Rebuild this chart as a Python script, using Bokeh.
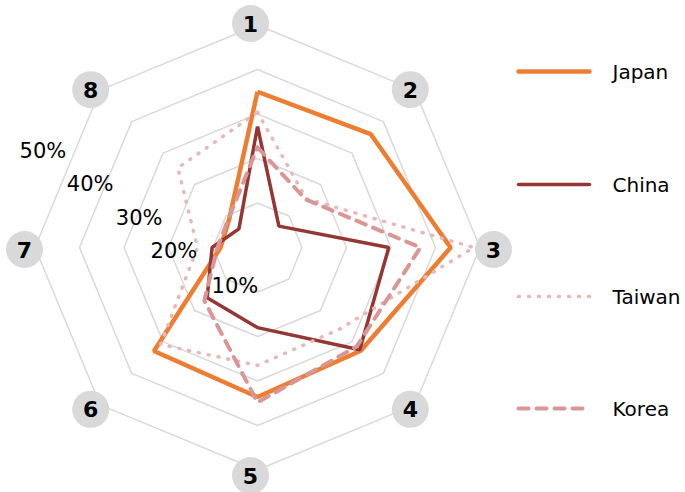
import math
from bokeh.plotting import figure
from bokeh.models import Range1d
from bokeh.core.properties import value
from bokeh.embed import file_html
from bokeh.resources import INLINE

# ---- data ----
axes_labels = ["1", "2", "3", "4", "5", "6", "7", "8"]
ring_levels = [10, 20, 30, 40, 50]
ring_labels = ["10%", "20%", "30%", "40%", "50%"]
series_names = ["Japan", "China", "Taiwan", "Korea"]
japan = [35.0, 36.0, 43.4, 32.8, 33.6, 32.9, 8.3, 9.0]
china = [27.2, 6.8, 29.5, 32.5, 18.0, 16.0, 10.2, 5.9]
taiwan = [30.4, 15.5, 48.6, 26.0, 26.5, 30.8, 13.5, 25.3]
korea = [22.5, 15.3, 36.6, 31.5, 34.8, 16.9, 9.0, 9.2]

# ---- layout / style ----
W, H = 685, 492
CX, CY = 257, 247          # centre of the radar in canvas px
SCALE = 4.45               # px per percent
FONT = "DejaVu Sans"

p = figure(width=W, height=H, output_backend="svg", toolbar_location=None,
           x_range=Range1d(-CX, W - CX), y_range=Range1d(-(H - CY), CY),
           min_border=0)
p.axis.visible = False
p.grid.visible = False
p.outline_line_color = None
p.background_fill_color = "white"
p.border_fill_color = "white"

n = len(axes_labels)
angles = [math.pi / 2 - k * 2 * math.pi / n for k in range(n)]


def polygon(vals):
    xs = [v * SCALE * math.cos(a) for v, a in zip(vals, angles)]
    ys = [v * SCALE * math.sin(a) for v, a in zip(vals, angles)]
    return xs + xs[:1], ys + ys[:1]


# grid rings
for lvl in ring_levels:
    xs, ys = polygon([lvl] * n)
    p.line(xs, ys, line_color="#d9d9d9", line_width=1.5)

styles = {
    "Japan": dict(line_color="#ED7D31", line_width=4.5),
    "China": dict(line_color="#943634", line_width=3.5),
    "Taiwan": dict(line_color="#E6B9B8", line_width=3.5, line_dash="1 9", line_cap="round"),
    "Korea": dict(line_color="#D99694", line_width=4, line_dash="10 8", line_cap="round"),
}
data = {"Japan": japan, "China": china, "Taiwan": taiwan, "Korea": korea}

for name in series_names:
    xs, ys = polygon(data[name])
    p.line(xs, ys, **styles[name])

# axis label bubbles
LABEL_R = 226
label_pad = [0, 0, 17, 0, 0, 0, 0, 0]
lx = [(LABEL_R + pad) * math.cos(a) - 7 for a, pad in zip(angles, label_pad)]
ly = [(LABEL_R + pad) * math.sin(a) - 2 for a, pad in zip(angles, label_pad)]
p.scatter(lx, ly, size=37, fill_color="#d9d9d9", line_color=None)
p.text(lx, ly, text=axes_labels, text_font=value(FONT), text_font_style="bold",
       text_font_size="22px", text_align="center", text_baseline="middle",
       text_color="#000000")

# ring percentage labels (right-aligned anchor offsets in px)
pct_pos = [(0.7, -38), (-60.3, -3), (-95, 30), (-144, 64), (-191.3, 97)]
p.text([q[0] for q in pct_pos], [q[1] for q in pct_pos], text=ring_labels,
       text_font=value(FONT), text_font_size="21px", text_align="right",
       text_baseline="middle", text_color="#000000")

# legend (manual)
leg_x0, leg_x1, leg_tx = 261, 332, 355
leg_y = [176, 63, -49, -161]
for name, yy in zip(series_names, leg_y):
    st = dict(styles[name])
    if "line_cap" not in st:
        st["line_cap"] = "round"
    p.line([leg_x0, leg_x1], [yy, yy], **st)
p.text([leg_tx] * 4, leg_y, text=series_names, text_font=value(FONT),
       text_font_size="20px", text_align="left", text_baseline="middle",
       text_color="#000000")

open("out.html", "w").write(file_html(p, INLINE))
